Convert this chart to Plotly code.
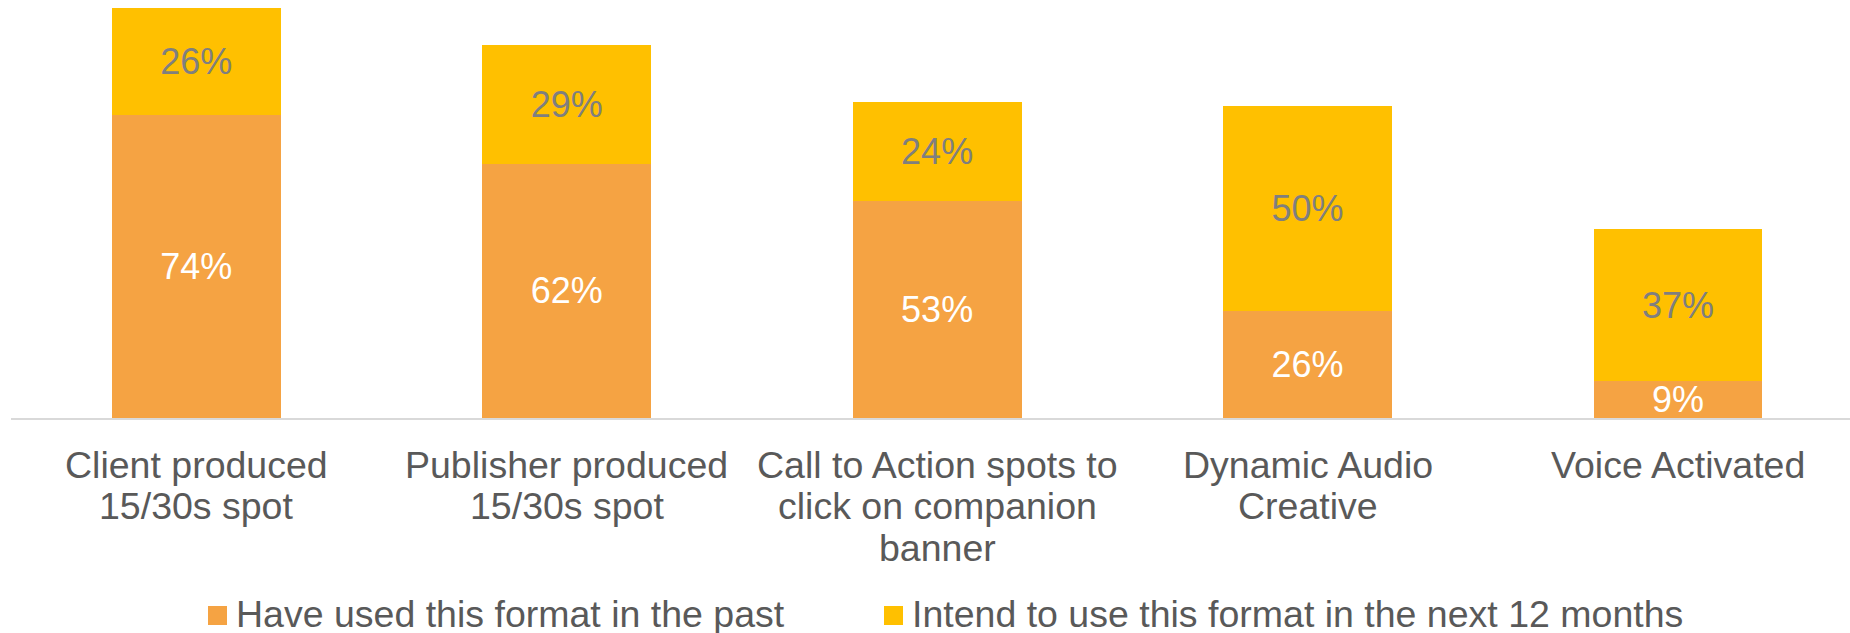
import plotly.graph_objects as go

# Survey data: share of respondents per audio ad format (%)
categories = [
    "Client produced<br>15/30s spot",
    "Publisher produced<br>15/30s spot",
    "Call to Action spots to<br>click on companion<br>banner",
    "Dynamic Audio<br>Creative",
    "Voice Activated",
]
used_past = [74, 62, 53, 26, 9]
intend_next_12m = [26, 29, 24, 50, 37]
series_names = [
    "Have used this format in the past",
    "Intend to use this format in the next 12 months",
]

ORANGE = "#F5A343"
GOLD = "#FFC000"
FONT = "Liberation Sans, Arial, sans-serif"
TEXT_GREY = "#595959"
LABEL_SIZE = 37.5

W, H = 1850, 633
L, R, T, B = 11, 0, 8, 215
plot_w = W - L - R
plot_h = H - T - B
slot_px = 370.45  # width of one category slot in pixels

x_idx = list(range(len(categories)))

fig = go.Figure()
fig.add_trace(go.Bar(
    x=x_idx, y=used_past, name=series_names[0],
    marker=dict(color=ORANGE, line=dict(width=0)),
    width=0.456,
    text=[f"{v}%" for v in used_past],
    textposition="inside", insidetextanchor="middle", constraintext="none",
    textfont=dict(family=FONT, size=36, color="white"),
    showlegend=False,
))
fig.add_trace(go.Bar(
    x=x_idx, y=intend_next_12m, name=series_names[1],
    marker=dict(color=GOLD, line=dict(width=0)),
    width=0.456,
    text=[f"{v}%" for v in intend_next_12m],
    textposition="inside", insidetextanchor="middle", constraintext="none",
    textfont=dict(family=FONT, size=36, color="#7F7F7F"),
    showlegend=False,
))


def px_to_paper_x(px):
    return (px - L) / plot_w


def px_to_paper_y(py):
    return (H - B - py) / plot_h


shapes = []
annotations = []

# Category labels, one annotation per line for tight line spacing
first_line_mid, line_step = 464.5, 41.5
for xi, label in zip(x_idx, categories):
    for k, line in enumerate(label.split("<br>")):
        annotations.append(dict(
            xref="x", yref="paper",
            x=xi, y=px_to_paper_y(first_line_mid + k * line_step),
            xanchor="center", yanchor="middle",
            text=line, showarrow=False,
            font=dict(family=FONT, size=LABEL_SIZE, color=TEXT_GREY),
        ))

# Custom legend: square swatches plus labels under the category axis
legend_items = [
    (208, ORANGE, series_names[0]),
    (884, GOLD, series_names[1]),
]
sw_top, sw_size = 606, 19
for x0, col, label in legend_items:
    shapes.append(dict(
        type="rect", xref="paper", yref="paper",
        x0=px_to_paper_x(x0), x1=px_to_paper_x(x0 + sw_size),
        y0=px_to_paper_y(sw_top + sw_size), y1=px_to_paper_y(sw_top),
        fillcolor=col, line=dict(width=0),
    ))
    annotations.append(dict(
        xref="paper", yref="paper",
        x=px_to_paper_x(x0 + 26), y=px_to_paper_y(614),
        xanchor="left", yanchor="middle",
        text=label, showarrow=False,
        font=dict(family=FONT, size=LABEL_SIZE, color=TEXT_GREY),
    ))

fig.update_layout(
    width=W, height=H,
    margin=dict(l=L, r=R, t=T, b=B, pad=0),
    barmode="stack",
    plot_bgcolor="white", paper_bgcolor="white",
    showlegend=False,
    shapes=shapes,
    annotations=annotations,
    xaxis=dict(
        tickmode="array", tickvals=x_idx, showticklabels=False,
        range=[-0.5, -0.5 + plot_w / slot_px],
        showline=True, linecolor="#D9D9D9", linewidth=2,
        showgrid=False, zeroline=False, ticks="",
    ),
    yaxis=dict(
        range=[0, 100], visible=False, showgrid=False, zeroline=False,
    ),
)

fig.write_html("out.html")
